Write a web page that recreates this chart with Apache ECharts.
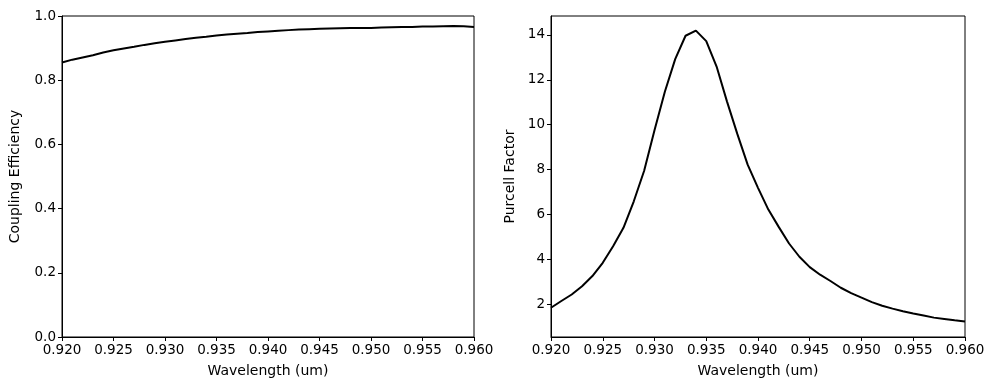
<!DOCTYPE html>
<html>
<head>
<meta charset="utf-8">
<script src="https://cdn.jsdelivr.net/npm/echarts@6/dist/echarts.min.js"></script>
<style>html,body{margin:0;padding:0;background:#fff}#c{width:994px;height:390px}</style>
</head>
<body>
<div id="c"></div>
<script>
var wavelengths = [0.920,0.921,0.922,0.923,0.924,0.925,0.926,0.927,0.928,0.929,0.930,0.931,0.932,0.933,0.934,0.935,0.936,0.937,0.938,0.939,0.940,0.941,0.942,0.943,0.944,0.945,0.946,0.947,0.948,0.949,0.950,0.951,0.952,0.953,0.954,0.955,0.956,0.957,0.958,0.959,0.960];
var couplingEfficiency = [0.855,0.864,0.871,0.878,0.886,0.893,0.899,0.904,0.910,0.915,0.920,0.924,0.928,0.932,0.935,0.939,0.942,0.945,0.947,0.950,0.952,0.954,0.956,0.958,0.959,0.960,0.961,0.962,0.963,0.963,0.963,0.964,0.965,0.966,0.966,0.967,0.967,0.968,0.969,0.968,0.966];
var purcellFactor = [1.85,2.15,2.44,2.81,3.26,3.85,4.59,5.41,6.59,7.95,9.75,11.47,12.92,13.96,14.19,13.72,12.59,11.04,9.59,8.22,7.19,6.22,5.45,4.71,4.12,3.66,3.32,3.04,2.74,2.50,2.30,2.10,1.94,1.81,1.69,1.59,1.50,1.41,1.35,1.29,1.24];
var xTicks = [0.920,0.925,0.930,0.935,0.940,0.945,0.950,0.955,0.960];
var leftYTicks = [0.0,0.2,0.4,0.6,0.8,1.0];
var rightYTicks = [2,4,6,8,10,12,14];

var FONT = 'DejaVu Sans';
var FS = 13.5;
var NFS = 14;
function xAxis(gi){
  return {
    type:'value', gridIndex:gi, min:0.92, max:0.96,
    name:'Wavelength (um)', nameLocation:'middle', nameGap:27,
    nameTextStyle:{fontFamily:FONT,fontSize:NFS,color:'#000'},
    axisLine:{show:true,onZero:false,lineStyle:{color:'#000',width:1}},
    axisTick:{show:true,length:4,lineStyle:{color:'#000'},customValues:xTicks},
    axisLabel:{fontFamily:FONT,fontSize:FS,color:'#000',margin:6,customValues:xTicks,
      formatter:function(v){return v.toFixed(3);}},
    splitLine:{show:false}
  };
}
var option = {
  animation:false,
  backgroundColor:'#fff',
  grid:[
    {left:62,right:520,top:16,bottom:53,show:true,borderColor:'#000',borderWidth:1,backgroundColor:'transparent'},
    {left:551,right:29,top:16,bottom:53,show:true,borderColor:'#000',borderWidth:1,backgroundColor:'transparent'}
  ],
  xAxis:[xAxis(0),xAxis(1)],
  yAxis:[
    {type:'value',gridIndex:0,min:0,max:1,
     name:'Coupling Efficiency',nameLocation:'middle',nameGap:40,
     nameTextStyle:{fontFamily:FONT,fontSize:NFS,color:'#000'},
     axisLine:{show:true,onZero:false,lineStyle:{color:'#000',width:1}},
     axisTick:{show:true,length:4,lineStyle:{color:'#000'},customValues:leftYTicks},
     axisLabel:{fontFamily:FONT,fontSize:FS,color:'#000',margin:6,customValues:leftYTicks,
       formatter:function(v){return v.toFixed(1);}},
     splitLine:{show:false}},
    {type:'value',gridIndex:1,min:0.547,max:14.84,
     name:'Purcell Factor',nameLocation:'middle',nameGap:34,
     nameTextStyle:{fontFamily:FONT,fontSize:NFS,color:'#000'},
     axisLine:{show:true,onZero:false,lineStyle:{color:'#000',width:1}},
     axisTick:{show:true,length:4,lineStyle:{color:'#000'},customValues:rightYTicks},
     axisLabel:{fontFamily:FONT,fontSize:FS,color:'#000',margin:6,customValues:rightYTicks,
       formatter:function(v){return String(v);}},
     splitLine:{show:false}}
  ],
  series:[
    {type:'line',xAxisIndex:0,yAxisIndex:0,showSymbol:false,symbol:'none',
     lineStyle:{color:'#000',width:2},
     data:wavelengths.map(function(w,i){return [w,couplingEfficiency[i]];})},
    {type:'line',xAxisIndex:1,yAxisIndex:1,showSymbol:false,symbol:'none',
     lineStyle:{color:'#000',width:2},
     data:wavelengths.map(function(w,i){return [w,purcellFactor[i]];})}
  ]
};
var chart = echarts.init(document.getElementById('c'),null,{renderer:'canvas'});
chart.setOption(option);
</script>
</body>
</html>
